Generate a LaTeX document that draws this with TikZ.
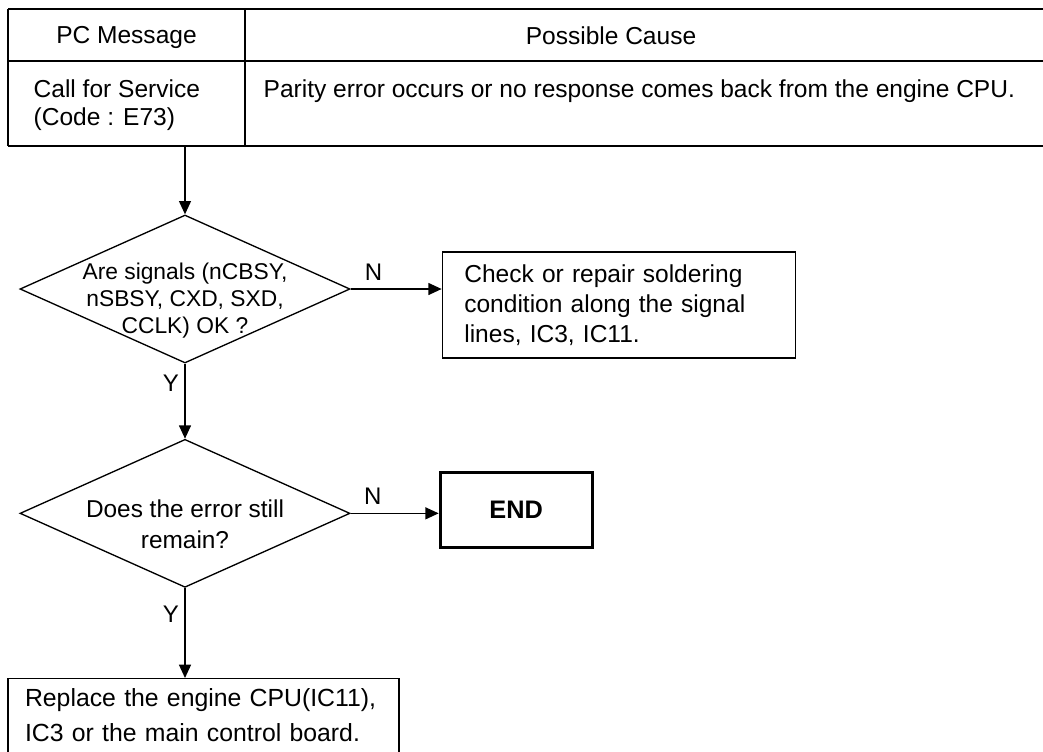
\documentclass[tikz,border=0pt]{standalone}
\usepackage{fontspec}
\setmainfont{Liberation Sans}
\usetikzlibrary{arrows.meta,positioning,shapes.geometric,quotes}

\begin{document}
\begin{tikzpicture}[
    x=0.75pt, y=-0.75pt,
    font=\fontsize{18.4}{22.5}\selectfont,
    line width=1pt,
    >={Triangle[length=10pt,width=9pt]},
    rule/.style={line width=1.5pt},
    cell/.style={inner sep=0pt, align=left},
    dec/.style={draw, diamond, inner sep=0pt, minimum width=247.5pt, minimum height=111pt},
    qone/.style={align=center, yshift=-9pt, font=\fontsize{17.1}{20.3}\selectfont},
    qtwo/.style={align=center, yshift=-8.5pt, font=\fontsize{18.3}{23.25}\selectfont},
    act/.style={draw, align=left, inner xsep=16.5pt, inner ysep=0pt},
    endbox/.style={draw, line width=2.2pt, minimum width=114pt, minimum height=56.25pt,
                   font=\fontsize{19}{22}\selectfont\bfseries},
    yn/.style={font=\fontsize{18}{20}\selectfont},
    every edge quotes/.style={auto, yn, inner xsep=4pt, inner ysep=6pt},
    ]
\useasboundingbox (0,0) rectangle (1043,751);

% message table
\draw[rule] (8,9) -- (1043,9);
\draw (8,61) -- (1043,61);
\draw[rule] (8,146) -- (1043,146);
\draw[rule] (8,9) -- (8,146);
\draw (245,9) -- (245,146);
\node[cell, anchor=north] (pcmsg) at (126.5,26) {PC Message};
\node[cell, anchor=north] (cause) at (611,26) {Possible Cause};
\node[cell, anchor=north west, font=\fontsize{18.4}{21}\selectfont] (code) at (33,79) {Call for Service\\(Code : E73)};
\node[cell, anchor=north west] (parity) at (263,79) {Parity error occurs or no response comes back from the engine CPU.};
\coordinate (tblfoot) at (185,146);

% flow
\node[dec, label={[qone]center:{Are signals (nCBSY,\\nSBSY, CXD, SXD,\\CCLK) OK ?}}] (q1) at (185,289) {};
\node[dec, below=56.25pt of q1, label={[qtwo]center:{Does the error still\\remain?}}] (q2) {};
\node[act, text width=231.75pt, minimum height=79.5pt, right=68.25pt of q1, yshift=-12pt] (fix)
     {Check or repair soldering\\condition along the signal\\lines, IC3, IC11.};
\node[endbox, right=66pt of q2, yshift=2.6pt] (done) {END};
\node[act, text width=267.75pt, inner xsep=12.75pt, inner ysep=7.5pt, text depth=60pt,
      font=\fontsize{18.6}{26.25}\selectfont, below=67.5pt of q2, xshift=13.9pt] (repl)
     {Replace the engine CPU(IC11),\\IC3 or the main control board.};

\draw[->] (tblfoot) -- (q1);
\draw[->] (q1) edge["N" {pos=0.25}] (fix.west |- q1);
\draw[->] (q1) edge["Y" {pos=0.26, swap}] (q2);
\draw[->] (q2) edge["N" {pos=0.25}] (done.west |- q2);
\draw[->] (q2) edge["Y" {pos=0.29, swap}] (q2 |- repl.north);
\end{tikzpicture}
\end{document}
